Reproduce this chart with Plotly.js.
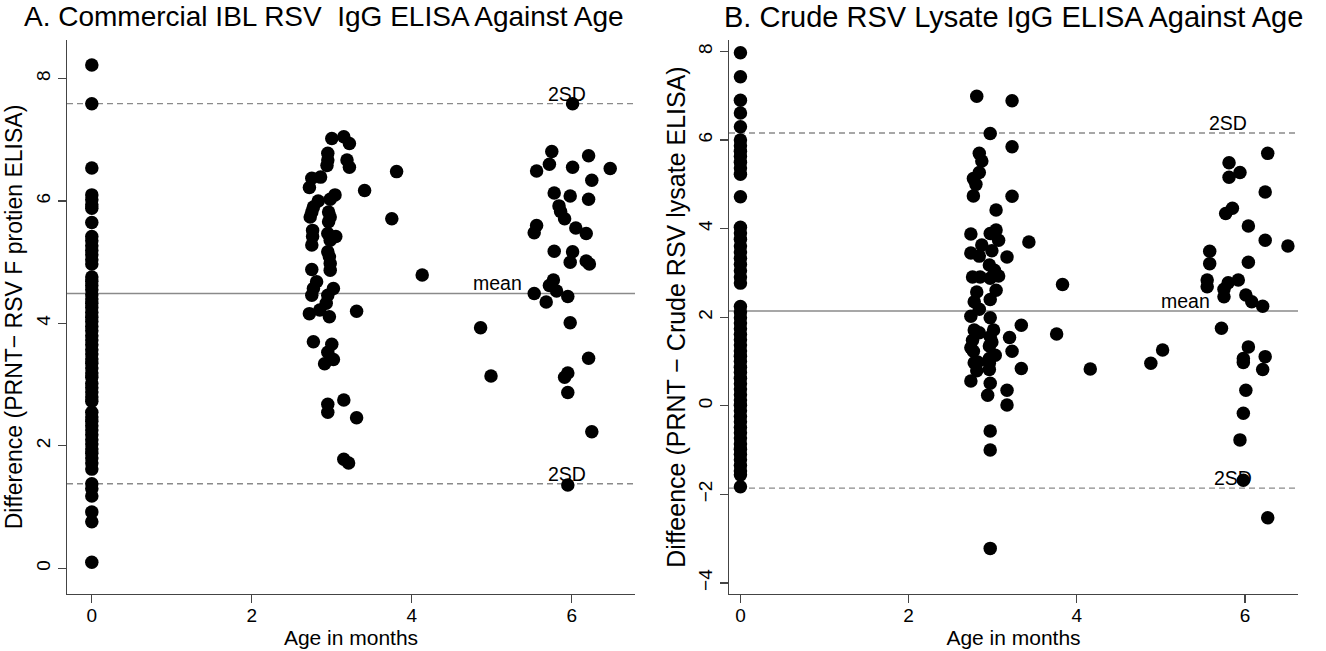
<!DOCTYPE html>
<html>
<head>
<meta charset="utf-8">
<script src="https://cdn.plot.ly/plotly-3.0.1.min.js"></script>
<style>html,body{margin:0;padding:0;background:#fff;}#chart{width:1326px;height:651px;}</style>
</head>
<body>
<div id="chart"></div>
<script>
// ---------- Panel A: Commercial IBL RSV IgG ELISA ----------
var aAge0Diff = [8.22, 7.59, 6.54, 6.10, 6.02, 5.94, 5.88, 5.65, 5.42, 5.35, 5.27, 5.19, 5.12, 5.04, 4.97,
  4.76, 4.69, 4.62, 4.55, 4.47, 4.40, 4.33, 4.26, 4.18, 4.10, 4.03, 3.95, 3.88, 3.80, 3.73, 3.65, 3.57,
  3.50, 3.42, 3.35, 3.27, 3.19, 3.12, 3.02, 2.95, 2.88, 2.80, 2.73, 2.55, 2.47, 2.40, 2.33, 2.26, 2.18,
  2.10, 2.03, 1.95, 1.88, 1.80, 1.72, 1.62, 1.38, 1.30, 1.18, 0.92, 0.76, 0.10];
var aOtherAge = [3.00, 3.15, 3.22, 2.95, 2.95, 2.94, 3.19, 3.22, 3.81, 2.75, 2.86, 2.72, 3.41, 3.04, 2.98,
  2.83, 2.77, 2.75, 2.73, 2.96, 2.98, 2.96, 3.75, 2.76, 2.76, 2.75, 2.95, 3.05, 2.98, 2.95, 2.97, 2.98,
  2.98, 2.75, 4.13, 2.81, 2.77, 3.02, 2.75, 2.95, 2.93, 2.72, 2.85, 2.97, 3.31, 2.77, 3.00, 2.95, 3.02,
  2.91, 2.95, 2.95, 3.15, 3.31, 3.15, 3.21,
  6.01, 5.75, 6.21, 5.72, 5.56, 6.01, 6.48, 6.25, 5.78, 5.98, 6.21, 5.84, 5.86, 5.91, 5.56, 5.53, 6.05,
  6.18, 5.78, 6.01, 5.98, 6.18, 6.22, 5.77, 5.72, 5.81, 5.53, 5.68, 5.95, 4.86, 5.98, 6.21, 4.99, 5.95,
  5.91, 5.95, 6.25, 5.95];
var aOtherDiff = [7.02, 7.05, 6.94, 6.78, 6.67, 6.58, 6.67, 6.55, 6.48, 6.37, 6.39, 6.22, 6.17, 6.10, 6.03,
  6.00, 5.90, 5.82, 5.74, 5.82, 5.74, 5.66, 5.71, 5.52, 5.42, 5.28, 5.47, 5.42, 5.36, 5.17, 5.09, 4.98,
  4.87, 4.88, 4.79, 4.68, 4.57, 4.57, 4.46, 4.46, 4.33, 4.16, 4.22, 4.11, 4.20, 3.70, 3.66, 3.53, 3.41,
  3.34, 2.68, 2.55, 2.75, 2.46, 1.78, 1.72,
  7.59, 6.81, 6.74, 6.60, 6.49, 6.55, 6.53, 6.34, 6.13, 6.08, 6.03, 5.92, 5.83, 5.71, 5.60, 5.48, 5.56,
  5.47, 5.18, 5.17, 5.00, 5.02, 4.97, 4.71, 4.62, 4.53, 4.49, 4.35, 4.44, 3.93, 4.01, 3.43, 3.14, 3.19,
  3.12, 2.87, 2.23, 1.36];
var aMean = 4.49, aUpper = 7.59, aLower = 1.38;

// ---------- Panel B: Crude RSV lysate IgG ELISA ----------
var bAge0Diff = [7.97, 7.43, 6.90, 6.61, 6.30, 6.00, 5.87, 5.75, 5.63, 5.50, 5.37, 5.23, 4.72, 4.03, 3.90,
  3.76, 3.61, 3.47, 3.33, 3.19, 3.05, 2.91, 2.77, 2.24, 2.12, 1.99, 1.87, 1.74, 1.61, 1.49, 1.37, 1.24,
  1.12, 1.00, 0.87, 0.75, 0.62, 0.50, 0.38, 0.25, 0.13, 0.01, -0.11, -0.24, -0.36, -0.49, -0.61, -0.73,
  -0.86, -0.98, -1.10, -1.22, -1.35, -1.47, -1.56, -1.83];
var bOtherAge = [2.81, 3.23, 2.97, 3.23, 2.84, 2.87, 2.84, 2.77, 2.80, 2.77, 3.23, 3.04, 2.74, 2.97, 3.04,
  3.07, 3.43, 2.87, 2.99, 2.74, 2.84, 3.17, 2.96, 3.02, 2.76, 2.85, 2.97, 3.07, 3.83, 2.81, 3.04, 2.97,
  2.78, 2.84, 2.74, 2.97, 3.34, 3.76, 2.78, 2.84, 3.01, 2.97, 3.20, 2.76, 2.99, 2.96, 2.74, 3.23, 2.77,
  3.03, 2.96, 2.78, 2.82, 2.96, 3.34, 4.16, 2.81, 2.96, 2.74, 2.97, 3.17, 2.94, 3.17, 2.97, 2.97, 2.97,
  6.27, 5.81, 5.94, 5.81, 6.24, 5.85, 5.77, 6.04, 6.24, 6.51, 5.58, 5.58, 6.04, 5.55, 5.55, 5.92, 5.80,
  5.75, 5.75, 6.01, 6.08, 6.21, 5.72, 5.02, 4.88, 6.04, 6.24, 5.98, 5.98, 6.21, 6.01, 5.98, 5.94, 5.98,
  6.27];
var bOtherDiff = [6.99, 6.89, 6.15, 5.85, 5.70, 5.53, 5.27, 5.13, 5.00, 4.74, 4.73, 4.42, 3.88, 3.89, 3.97,
  3.74, 3.70, 3.63, 3.50, 3.45, 3.38, 3.36, 3.18, 3.06, 2.91, 2.91, 2.88, 2.93, 2.74, 2.57, 2.61, 2.40,
  2.35, 2.18, 2.02, 1.99, 1.82, 1.62, 1.71, 1.65, 1.71, 1.56, 1.54, 1.48, 1.44, 1.35, 1.31, 1.23, 1.23,
  1.14, 1.07, 0.97, 0.99, 0.96, 0.84, 0.83, 0.79, 0.82, 0.56, 0.51, 0.35, 0.24, 0.02, -0.57, -1.00, -3.22,
  5.70, 5.49, 5.27, 5.16, 4.83, 4.46, 4.34, 4.06, 3.74, 3.61, 3.49, 3.21, 3.24, 2.84, 2.69, 2.84, 2.78,
  2.63, 2.46, 2.50, 2.35, 2.25, 1.75, 1.26, 0.96, 1.33, 1.11, 1.07, 0.98, 0.82, 0.35, -0.17, -0.77, -1.68,
  -2.53];
var bMean = 2.14, bUpper = 6.16, bLower = -1.86;

var titleA = "A. Commercial IBL RSV  IgG ELISA Against Age";
var titleB = "B. Crude RSV Lysate IgG ELISA Against Age";
var yTitleA = "Difference (PRNT\u2212 RSV F protien ELISA)";
var yTitleB = "Diffeence (PRNT \u2212 Crude RSV lysate ELISA)";
var xTitle = "Age in months";

function zeros(n){ var a=[]; for(var i=0;i<n;i++) a.push(0); return a; }

var FONT = "Liberation Sans, Arial, Helvetica, sans-serif";
var mk = {color:'#000', size:13.5, line:{width:0}};

var traces = [
  {x: zeros(aAge0Diff.length).concat(aOtherAge), y: aAge0Diff.concat(aOtherDiff), type:'scatter', mode:'markers', marker:mk, xaxis:'x', yaxis:'y', hoverinfo:'x+y'},
  {x: zeros(bAge0Diff.length).concat(bOtherAge), y: bAge0Diff.concat(bOtherDiff), type:'scatter', mode:'markers', marker:mk, xaxis:'x2', yaxis:'y2', hoverinfo:'x+y'}
];

function hline(xr, yr, val, dash){
  return {type:'line', xref:xr+' domain', yref:yr, x0:0, x1:1, y0:val, y1:val, layer:'below',
    line:{color:'#8a8a8a', width:1.4, dash: dash ? '6px,4px' : 'solid'}};
}

var axBase = {showgrid:false, zeroline:false, showline:true, linecolor:'#444', linewidth:1.2,
  ticks:'outside', ticklen:8, tickwidth:1.2, tickcolor:'#444', mirror:false,
  tickfont:{family:FONT, size:19, color:'#000'}};

function ax(extra){ var o = JSON.parse(JSON.stringify(axBase)); for (var k in extra) o[k]=extra[k]; return o; }

var annFont = {family:FONT, size:19.5, color:'#000'};
var layout = {
  width:1326, height:651, paper_bgcolor:'#fff', plot_bgcolor:'#fff', showlegend:false,
  margin:{l:0, r:0, t:40, b:57},
  font:{family:FONT, color:'#000'},
  xaxis: ax({domain:[67/1326, 635/1326], anchor:'y', range:[-0.31, 6.79], tickvals:[0,2,4,6], ticklabelstandoff:-4,
    title:{text:xTitle, font:{family:FONT, size:21}, standoff:2}}),
  yaxis: ax({domain:[0,1], anchor:'x', range:[-0.42, 8.63], tickvals:[0,2,4,6,8], tickangle:-90,
    title:{text:yTitleA, font:{family:FONT, size:23}, standoff:4}}),
  xaxis2: ax({domain:[729/1326, 1298/1326], anchor:'y2', range:[-0.136, 6.63], tickvals:[0,2,4,6], ticklabelstandoff:-4,
    title:{text:xTitle, font:{family:FONT, size:21}, standoff:2}}),
  yaxis2: ax({domain:[0,1], anchor:'x2', range:[-4.25, 8.26], tickvals:[-4,-2,0,2,4,6,8], tickangle:-90,
    title:{text:yTitleB, font:{family:FONT, size:25}, standoff:2}}),
  shapes: [hline('x','y',aMean,false), hline('x','y',aUpper,true), hline('x','y',aLower,true),
           hline('x2','y2',bMean,false), hline('x2','y2',bUpper,true), hline('x2','y2',bLower,true)],
  annotations: [
    {text:titleA, xref:'paper', yref:'paper', x:324/1326, y:1, yshift:41, xanchor:'center', yanchor:'top', showarrow:false, font:{family:FONT, size:28, color:'#000'}},
    {text:titleB, xref:'paper', yref:'paper', x:1014/1326, y:1, yshift:41, xanchor:'center', yanchor:'top', showarrow:false, font:{family:FONT, size:29, color:'#000'}},
    {text:'2SD', xref:'x', yref:'y', x:5.94, y:aUpper, yanchor:'bottom', showarrow:false, font:annFont, yshift:-3},
    {text:'mean', xref:'x', yref:'y', x:5.07, y:aMean, yanchor:'bottom', showarrow:false, font:annFont, yshift:-3},
    {text:'2SD', xref:'x', yref:'y', x:5.94, y:aLower, yanchor:'bottom', showarrow:false, font:annFont, yshift:-3},
    {text:'2SD', xref:'x2', yref:'y2', x:5.80, y:bUpper, yanchor:'bottom', showarrow:false, font:annFont, yshift:-3},
    {text:'mean', xref:'x2', yref:'y2', x:5.29, y:bMean, yanchor:'bottom', showarrow:false, font:annFont, yshift:-3},
    {text:'2SD', xref:'x2', yref:'y2', x:5.86, y:bLower, yanchor:'bottom', showarrow:false, font:annFont, yshift:-3}
  ]
};

Plotly.newPlot('chart', traces, layout, {displayModeBar:false, staticPlot:true});
</script>
</body>
</html>
